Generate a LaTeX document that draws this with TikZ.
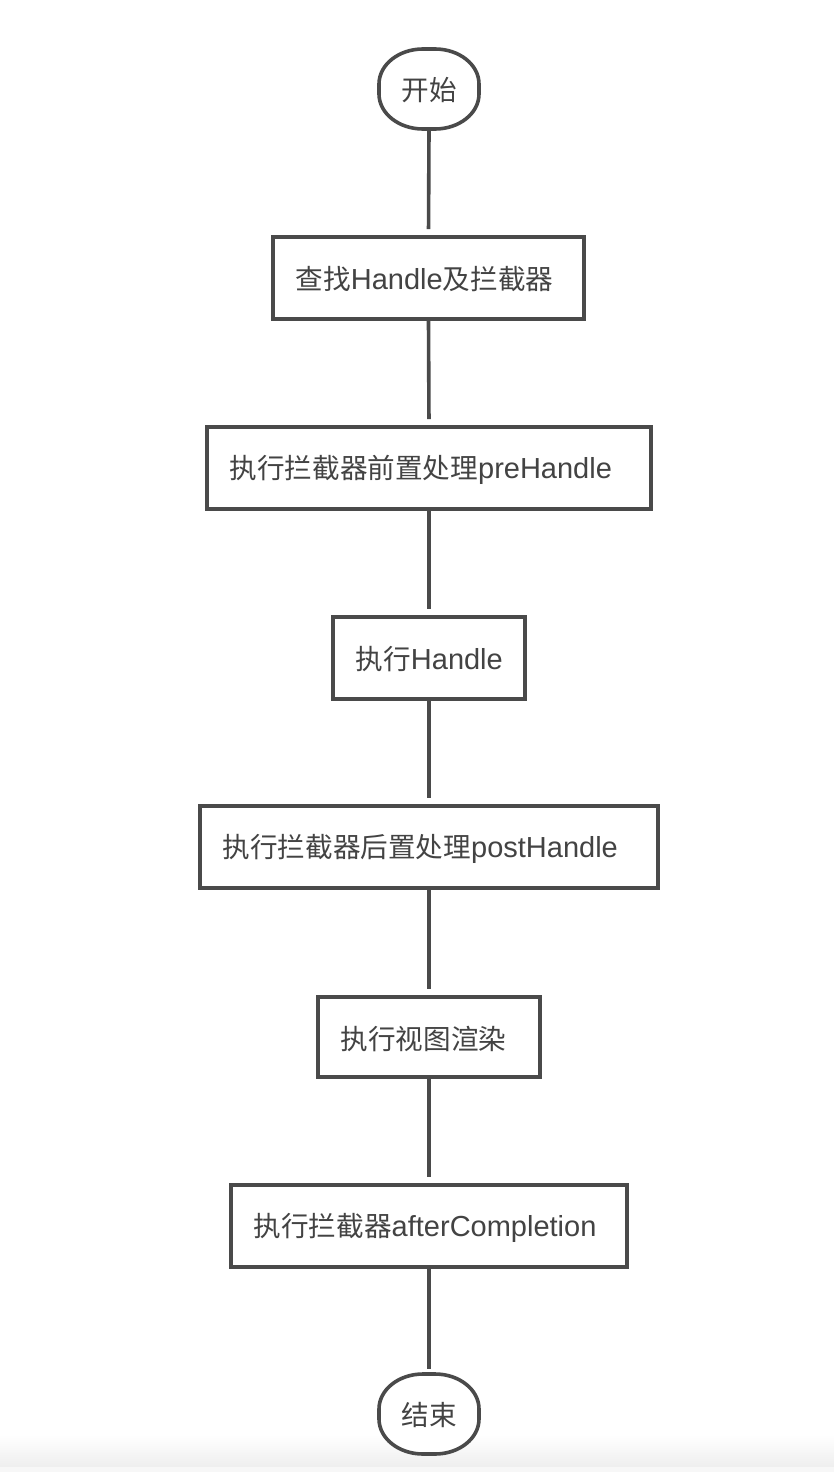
\documentclass[tikz,border=0pt]{standalone}
\usepackage{fontspec}
\setmainfont{Noto Sans CJK SC}
\newfontfamily\latinface{Liberation Sans}
\newcommand\entext[1]{{\latinface\fontsize{29}{32}\selectfont #1}}
\definecolor{ink}{HTML}{4A4A4A}
\definecolor{txt}{HTML}{434343}
\definecolor{fadegrey}{HTML}{EEEEEE}
% oval terminal outline around a 100x80 area centred on (#1,#2)
\newcommand\terminaloutline[2]{%
  \draw[ink, line width=3.6pt, fill=white]
    (#1-50,#2-40+35) arc[start angle=180, end angle=270, x radius=44, y radius=35]
    -- (#1+50-44,#2-40) arc[start angle=270, end angle=360, x radius=44, y radius=35]
    -- (#1+50,#2+40-35) arc[start angle=0, end angle=90, x radius=44, y radius=35]
    -- (#1-50+44,#2+40) arc[start angle=90, end angle=180, x radius=44, y radius=35]
    -- cycle;}
\begin{document}
\begin{tikzpicture}[x=1pt,y=-1pt,
  every node/.style={font=\fontsize{27.6}{32}\selectfont, text=txt},
  stepbox/.style={draw=ink, line width=3.6pt, fill=white, minimum height=82pt, inner sep=0pt},
  terminal/.style={minimum width=100pt, minimum height=80pt, inner sep=0pt},
  link/.style={draw=ink, line width=3.6pt, shorten >=6pt}]
  % page with a faint fade along the lower edge
  \useasboundingbox (0,0) rectangle (834,1472);
  \fill[white] (0,0) rectangle (834,1472);
  \shade[top color=white, bottom color=fadegrey] (0,1435) rectangle (834,1467);
  \fill[fadegrey!90!black!20] (0,1467) rectangle (834,1472);

  % terminals
  \terminaloutline{429}{89}
  \node[terminal] (start) at (429,90) {开始};
  \terminaloutline{429}{1414}
  \node[terminal] (stop) at (429,1415) {结束};

  % process steps: box outline, then text set in from the left edge
  \node[stepbox, minimum width=311pt] (s1) at (428.5,278) {};
  \node[anchor=west] (t1) at ([xshift=21pt,yshift=-1.5pt]s1.west) {查找\entext{Handle}及拦截器};
  \node[stepbox, minimum width=444pt] (s2) at (429,468) {};
  \node[anchor=west] (t2) at ([xshift=21pt,yshift=-1.5pt]s2.west) {执行拦截器前置处理\entext{preHandle}};
  \node[stepbox, minimum width=192pt] (s3) at (429,658) {};
  \node[anchor=west] (t3) at ([xshift=21pt,yshift=-1.5pt]s3.west) {执行\entext{Handle}};
  \node[stepbox, minimum width=458pt] (s4) at (429,847) {};
  \node[anchor=west] (t4) at ([xshift=21pt,yshift=-1.5pt]s4.west) {执行拦截器后置处理\entext{postHandle}};
  \node[stepbox, minimum width=222pt, minimum height=80pt] (s5) at (429,1037) {};
  \node[anchor=west] (t5) at ([xshift=21pt,yshift=-1.5pt]s5.west) {执行视图渲染};
  \node[stepbox, minimum width=396pt] (s6) at (429,1226) {};
  \node[anchor=west] (t6) at ([xshift=21pt,yshift=-1.5pt]s6.west) {执行拦截器\entext{afterCompletion}};

  % connectors
  \draw[link] (start.south) -- (s1.north);
  \draw[link] (s1.south) -- (s2.north);
  \draw[link] (s2.south) -- (s3.north);
  \draw[link] (s3.south) -- (s4.north);
  \draw[link] (s4.south) -- (s5.north);
  \draw[link] (s5.south) -- (s6.north);
  \draw[link] (s6.south) -- (stop.north);
\end{tikzpicture}
\end{document}
